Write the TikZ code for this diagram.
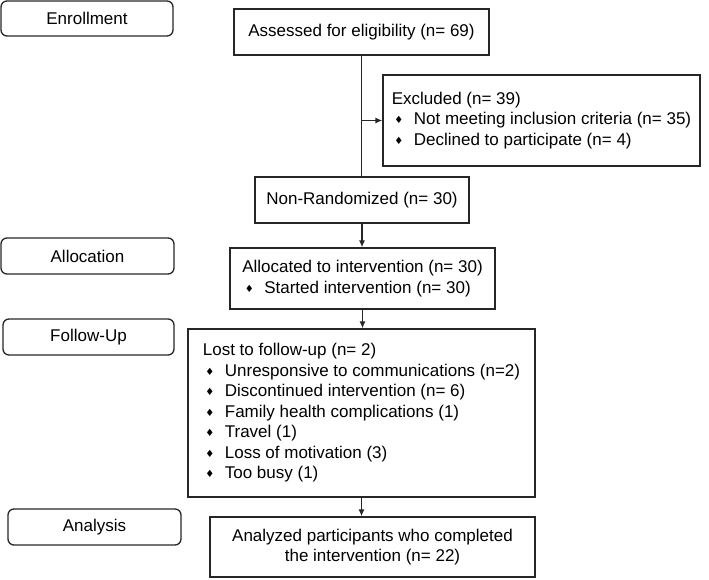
\documentclass[tikz,border=0pt]{standalone}
\usepackage{fontspec}
\setmainfont{Liberation Sans}
\newfontfamily\dmdfont{DejaVu Sans}
\usetikzlibrary{arrows.meta}
\newcommand\dmd{\makebox[22pt][l]{\hspace{2.5pt}\raisebox{1pt}{\dmdfont\fontsize{10}{10}\selectfont\char"2666}}}

\begin{document}
\begin{tikzpicture}[x=1pt,y=-1pt,
	every node/.style={font=\fontsize{17}{20.5}\selectfont,inner sep=0pt},
	stage/.style={draw=black!85,line width=1.3pt,rounded corners=6pt,minimum height=36},
	box/.style={draw=black!85,line width=1.3pt},
	arr/.style={-{Latex[length=7pt,width=6pt]},draw=black!85,line width=1.3pt}]
	\useasboundingbox (0,0) rectangle (709,579);
	% phase labels
	\node[stage,minimum width=172,minimum height=35] (enrol) at (87,18.5) {Enrollment};
	\node[stage,minimum width=173] (allocl) at (87.5,256) {Allocation};
	\node[stage,minimum width=171] (followl) at (88.5,337) {Follow-Up};
	\node[stage,minimum width=173] (analysl) at (94.5,527) {Analysis};
	% flow
	\node[box,minimum width=255,minimum height=46] (assess) at (361.5,32) {Assessed for eligibility (n= 69)};
	\node[box,minimum width=317,minimum height=91,align=left] (excl) at (541.5,120.5)
		{Excluded (n= 39)\\
		\dmd Not meeting inclusion criteria (n= 35)\\
		\dmd Declined to participate (n= 4)};
	\node[box,minimum width=214,minimum height=46] (nonrand) at (362,200) {Non-Randomized (n= 30)};
	\node[box,minimum width=265,minimum height=61,align=left] (alloc) at (362.5,278.5)
		{Allocated to intervention (n= 30)\\
		\dmd Started intervention (n= 30)};
	\node[box,minimum width=347,minimum height=168,align=left] (follow) at (361.5,413)
		{Lost to follow-up (n= 2)\\
		\dmd Unresponsive to communications (n=2)\\
		\dmd Discontinued intervention (n= 6)\\
		\dmd Family health complications (1)\\
		\dmd Travel (1)\\
		\dmd Loss of motivation (3)\\
		\dmd Too busy (1)};
	\node[box,minimum width=325,minimum height=60,align=center] (analys) at (372.5,547)
		{Analyzed participants who completed\\the intervention (n= 22)};
	\draw[draw=black!85,line width=1.3pt] (assess.south) -- (assess.south |- nonrand.north);
	\draw[arr] (assess.south |- excl.west) -- (excl.west);
	\draw[arr] (nonrand.south) -- (nonrand.south |- alloc.north);
	\draw[arr] (alloc.south) -- (alloc.south |- follow.north);
	\draw[arr] (follow.south) -- (follow.south |- analys.north);
\end{tikzpicture}
\end{document}
